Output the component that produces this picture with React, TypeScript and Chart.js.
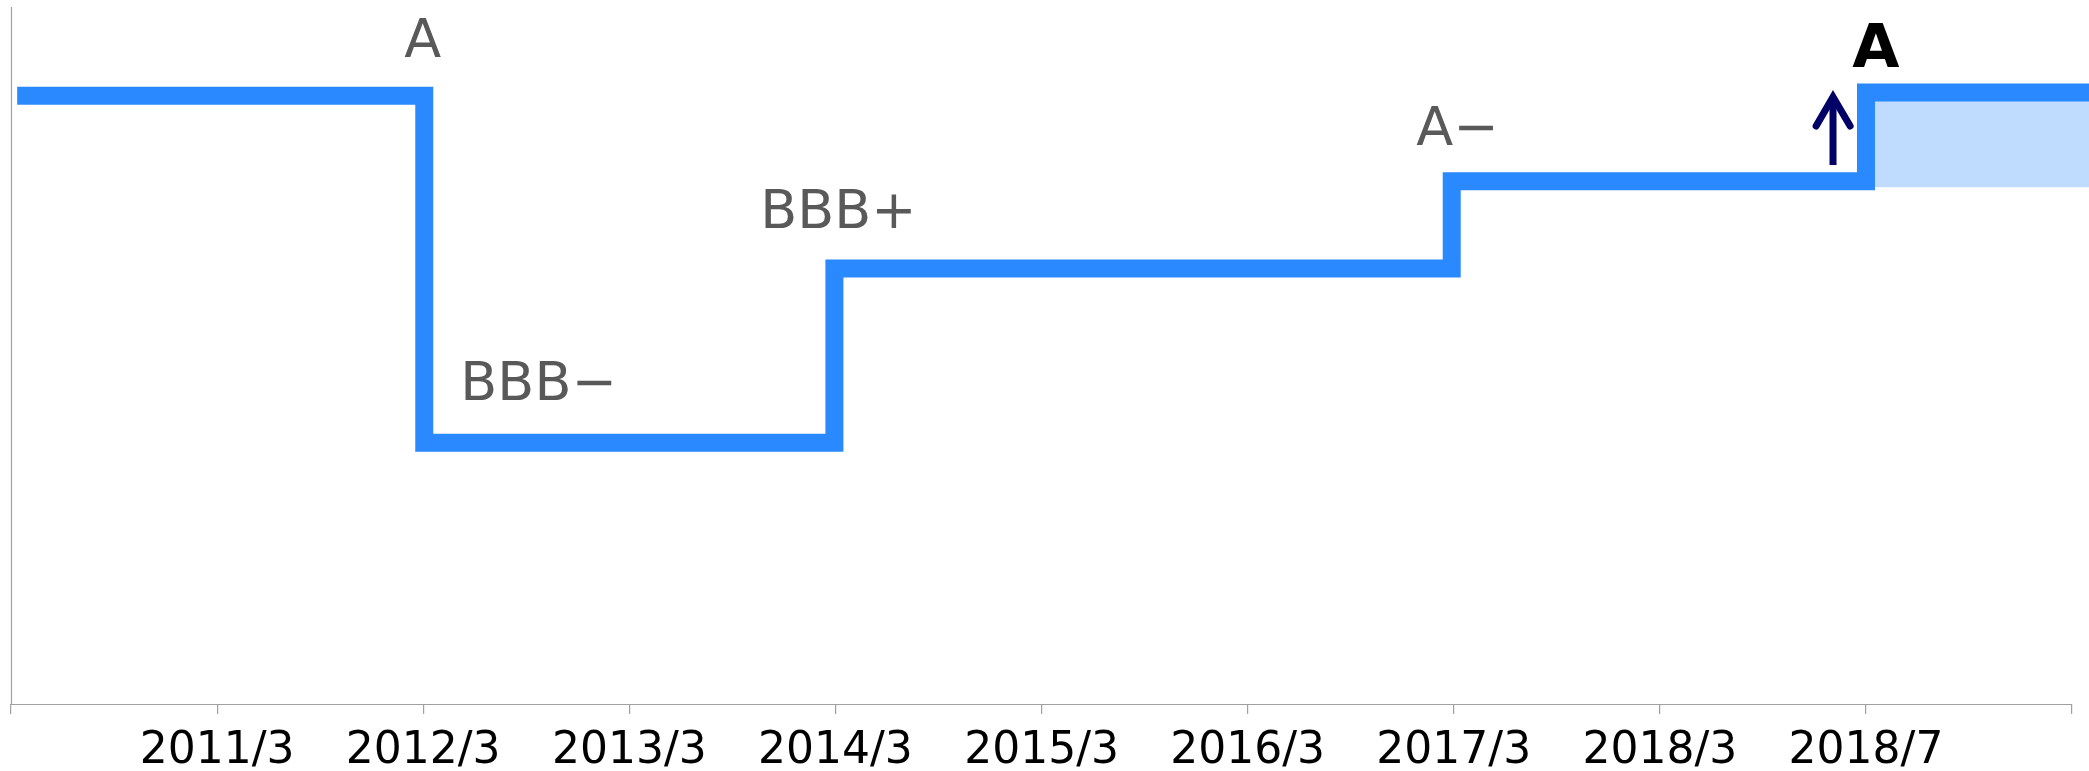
import React, { useEffect, useRef } from 'react';
import { Chart, registerables } from 'chart.js';

Chart.register(...registerables);

// ---- data ----
const X_LABELS = ['', '2011/3', '2012/3', '2013/3', '2014/3', '2015/3', '2016/3', '2017/3', '2018/3', '2018/7', ''];
// rating notch path (x = position on the date axis, y = rating notch: BBB-=3 ... A=7)
const STEP_X = [0.03, 2.005, 2.005, 3.995, 3.995, 6.99, 6.99, 9.0, 9.0, 10.1];
const STEP_Y = [6.98, 6.98, 3, 3, 5, 5, 6, 6, 7.02, 7.02];
// upgrade band
const BAND_X = [9.0, 10.1];
const BAND_TOP = [7.02, 7.02];
const BAND_BASE = 5.93;
// upgrade arrow
const ARROW_SHAFT_X = [8.84, 8.84];
const ARROW_SHAFT_Y = [6.186, 6.967];
const ARROW_HEAD_X = [8.758, 8.84, 8.923];
const ARROW_HEAD_Y = [6.634, 6.967, 6.634];
// rating labels
const RATING_TEXT = ['A', 'BBB−', 'BBB+', 'A−', 'A'];
const RATING_X = [1.908, 2.18, 3.635, 6.818, 8.933];
const RATING_Y = [7.426, 3.489, 5.463, 6.416, 7.311];

const Y_MIN = 0;
const Y_MAX = 8;
const X_MAX = 10.082;

const LINE_COLOR = '#2A89FF';
const BAND_COLOR = '#BFDBFE';
const ARROW_COLOR = '#000066';
const AXIS_COLOR = '#A0A0A0';

const pts = (xs: number[], ys: number[]) => xs.map((x, i) => ({ x, y: ys[i] }));

const overlayPlugin = {
  id: 'overlay',
  beforeDatasetsDraw(chart: any) {
    const { ctx } = chart;
    const xs = chart.scales.x;
    const ys = chart.scales.y;
    ctx.save();
    ctx.strokeStyle = AXIS_COLOR;
    ctx.lineWidth = 1.2;
    const x0 = Math.round(xs.getPixelForValue(0)) + 0.5;
    const xEnd = xs.getPixelForValue(X_LABELS.length - 1);
    const yb = Math.round(ys.getPixelForValue(Y_MIN)) + 0.5;
    const yt = ys.getPixelForValue(Y_MAX);
    ctx.beginPath();
    ctx.moveTo(x0, yt);
    ctx.lineTo(x0, yb);
    ctx.lineTo(xEnd, yb);
    ctx.stroke();
    ctx.restore();
  },
  afterDraw(chart: any) {
    const { ctx } = chart;
    const xs = chart.scales.x;
    const ys = chart.scales.y;
    ctx.save();
    ctx.textAlign = 'left';
    ctx.textBaseline = 'alphabetic';
    RATING_TEXT.forEach((t, i) => {
      const last = i === RATING_TEXT.length - 1;
      ctx.font = last ? 'bold 61px "DejaVu Sans"' : '54px "DejaVu Sans"';
      ctx.fillStyle = last ? '#000000' : '#595959';
      ctx.fillText(t, xs.getPixelForValue(RATING_X[i]), ys.getPixelForValue(RATING_Y[i]));
    });
    ctx.restore();
  },
};

export default function App() {
  const ref = useRef<HTMLCanvasElement>(null);
  useEffect(() => {
    if (!ref.current) return;
    const chart = new Chart(ref.current, {
      type: 'line',
      data: {
        datasets: [
          {
            data: pts(BAND_X, BAND_TOP),
            borderWidth: 0,
            pointRadius: 0,
            backgroundColor: BAND_COLOR,
            borderColor: 'rgba(0,0,0,0)',
            fill: { value: BAND_BASE },
            order: 3,
          } as any,
          {
            data: pts(STEP_X, STEP_Y),
            borderColor: LINE_COLOR,
            borderWidth: 18,
            borderJoinStyle: 'miter',
            borderCapStyle: 'butt',
            pointRadius: 0,
            fill: false,
            tension: 0,
            order: 2,
          },
          {
            data: pts(ARROW_SHAFT_X, ARROW_SHAFT_Y),
            borderColor: ARROW_COLOR,
            borderWidth: 7,
            borderCapStyle: 'butt',
            pointRadius: 0,
            fill: false,
            order: 1,
          },
          {
            data: pts(ARROW_HEAD_X, ARROW_HEAD_Y),
            borderColor: ARROW_COLOR,
            borderWidth: 7,
            borderCapStyle: 'round',
            borderJoinStyle: 'miter',
            pointRadius: 0,
            fill: false,
            order: 0,
          },
        ],
      },
      options: {
        animation: false,
        responsive: false,
        devicePixelRatio: 1,
        layout: { padding: { left: 10.7, top: 7, right: 0, bottom: 0 } },
        plugins: { legend: { display: false }, tooltip: { enabled: false } },
        scales: {
          x: {
            type: 'linear',
            min: 0,
            max: X_MAX,
            afterBuildTicks: (axis: any) => {
              axis.ticks = X_LABELS.map((_, i) => ({ value: i }));
            },
            afterFit: (axis: any) => {
              axis.height = 67;
            },
            grid: {
              display: true,
              drawOnChartArea: false,
              drawTicks: true,
              tickLength: 10,
              color: AXIS_COLOR,
              lineWidth: 1.2,
            },
            border: { display: false },
            ticks: {
              autoSkip: false,
              maxRotation: 0,
              minRotation: 0,
              padding: 11,
              color: '#000000',
              font: { family: '"DejaVu Sans"', size: 44 },
              callback: (_v: any, i: number) => X_LABELS[i] ?? '',
            },
          },
          y: {
            type: 'linear',
            min: Y_MIN,
            max: Y_MAX,
            display: false,
          },
        },
      },
      plugins: [overlayPlugin],
    } as any);
    return () => chart.destroy();
  }, []);
  return (
    <div style={{ position: 'fixed', left: 0, top: 0, width: 2089, height: 771, background: '#fff' }}>
      <canvas ref={ref} width={2089} height={771} style={{ display: 'block' }} />
    </div>
  );
}
